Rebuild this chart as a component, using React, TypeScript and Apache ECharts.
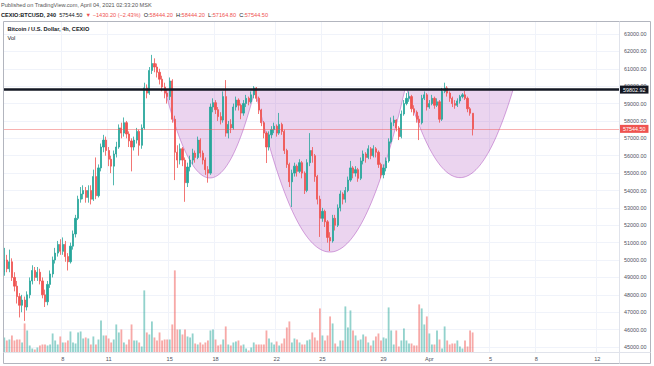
import React, { useEffect, useRef } from 'react';
import * as echarts from 'echarts';

// ---- data (4h candles, CEXIO BTC/USD, from 2021-03-04 04:00 UTC) ----
const firstOpen = 49300;
const closes = [
  50000, 49500, 49900, 49000, 48500, 47900, 47400, 47700, 47300, 48000,
  48800, 49400, 49000, 49300, 48800, 48000, 47600, 48600, 49200, 50000,
  50400, 50900, 50500, 50900, 50200, 49900, 50800, 51500, 52400, 53500,
  53800, 54000, 53600, 54000, 53500, 54800, 53700, 55300, 56500, 56900,
  56300, 55800, 55400, 56100, 56500, 57600, 57300, 57900, 57250, 56850,
  56500, 56900, 57400, 56600, 57600, 59900, 59600, 60900, 61300, 61100,
  60800, 60400, 59950, 59600, 59400, 60300, 58100, 56200, 55750, 56400,
  55750, 54450, 55350, 55750, 56150, 55900, 56900, 56150, 55750, 55200,
  55000, 58800, 59050, 58650, 58250, 58050, 59400, 57300, 57800, 57600,
  58800, 59200, 58900, 58450, 59000, 59300, 59100, 59500, 59900, 59300,
  58630, 57900, 57300, 56500, 57200, 57500, 57700, 57300, 57800, 57400,
  56300, 55500, 54500, 55000, 55400, 55100, 55600, 55000, 54000, 55600,
  56300, 56000, 54800, 53500, 52400, 52800, 52200, 51300, 51100, 52400,
  52000, 53000, 53800, 53500, 54000, 54600, 55300, 55000, 55200, 54700,
  55700, 56100, 55900, 56400, 56000, 56400, 56200, 55500, 54900, 55300,
  55700, 56800, 57900, 58050, 57600, 57100, 58400, 59000, 59300, 59400,
  58700, 58500, 58100, 57900, 59300, 59500, 58800, 59000, 59300, 58900,
  59100, 58100, 59700, 59900, 59600, 59300, 59000, 58900, 59150, 59400,
  59500, 59300, 58700, 58444.2, 57544.5,
];
const highs = [
  50700, 50300, 50600, 50100, 49300, 48800, 48100, 48000, 47900, 48200,
  49000, 49700, 49600, 49600, 49500, 49000, 48300, 48800, 49400, 50200,
  50700, 51100, 51200, 51300, 51100, 50400, 51000, 51700, 52600, 53700,
  54200, 54300, 54200, 54300, 54300, 55200, 55900, 55500, 56700, 57200,
  57100, 56500, 56000, 56300, 56800, 57800, 57900, 58200, 58000, 57400,
  57000, 57100, 57600, 57500, 57800, 60200, 60100, 61100, 61800, 61600,
  61300, 61000, 60600, 60200, 59800, 60500, 60400, 58300, 56600, 56700,
  56500, 55900, 55600, 56000, 56400, 56300, 57100, 57000, 56300, 55900,
  55400, 59000, 59300, 59200, 58800, 58500, 59700, 60350, 58000, 58100,
  59000, 59400, 59300, 59000, 59200, 59500, 59400, 59700, 60000, 59950,
  59400, 58700, 58000, 57400, 57400, 57700, 57900, 57800, 58460, 57900,
  57500, 56400, 55600, 55200, 55600, 55500, 55800, 55700, 55100, 55800,
  57300, 56500, 56100, 54900, 53700, 53000, 52900, 52300, 51600, 52600,
  52600, 53200, 54000, 53900, 54200, 54800, 55700, 55400, 55400, 55300,
  55900, 56300, 56200, 56600, 56500, 56600, 56500, 56300, 55600, 55500,
  55900, 57000, 58200, 58300, 58100, 57700, 58600, 59200, 59600, 59700,
  59500, 58900, 58600, 58300, 59500, 59700, 59600, 59200, 59500, 59400,
  59300, 59200, 59900, 60200, 60000, 59700, 59400, 59200, 59300, 59500,
  59600, 59720, 59400, 58800, 58444.2,
];
const lows = [
  49100, 49300, 49300, 48800, 48200, 47500, 46700, 47000, 46500, 47100,
  47800, 48600, 48800, 48800, 48600, 47800, 47300, 47400, 48400, 49000,
  49800, 50200, 50300, 50300, 49900, 49400, 49800, 50600, 51300, 52300,
  53300, 53500, 53300, 53300, 53200, 53400, 53500, 53600, 55100, 56200,
  56000, 55400, 55000, 54300, 55900, 56400, 57000, 57100, 57000, 56500,
  55100, 56300, 56700, 56000, 56400, 57500, 59300, 59500, 60700, 60800,
  60500, 60100, 59700, 59300, 59000, 59200, 57900, 54600, 55300, 55500,
  55400, 53350, 54200, 55100, 55500, 55600, 55800, 55900, 55500, 54900,
  54450, 54900, 58500, 58400, 58000, 57800, 57900, 57100, 57000, 57300,
  57500, 58600, 58600, 58100, 58300, 58800, 58900, 59000, 59300, 59100,
  58400, 57700, 57000, 55580, 56300, 57000, 57300, 57100, 57200, 57200,
  56100, 55300, 54200, 53050, 54800, 54800, 55000, 54700, 53800, 53900,
  55400, 55600, 54500, 53200, 51330, 52200, 51900, 51000, 50520, 51000,
  51700, 51900, 52800, 53200, 53300, 53900, 54500, 54700, 54800, 54500,
  54600, 55500, 55600, 55800, 55800, 55900, 55900, 55300, 54700, 54700,
  55100, 55600, 56700, 57700, 57400, 56900, 57000, 58300, 58900, 59100,
  58500, 58300, 57900, 56900, 57800, 59200, 58600, 58700, 58900, 58700,
  58800, 57900, 58000, 59600, 59400, 59100, 58800, 58700, 58800, 59000,
  59300, 59200, 58500, 58300, 57164.8,
];
const volumes = [
  150, 120, 130, 170, 120, 130, 130, 100, 290, 220,
  70, 40, 30, 50, 70, 80, 80, 70, 80, 190,
  120, 80, 160, 100, 100, 120, 210, 100, 90, 200,
  210, 140, 150, 140, 80, 160, 80, 130, 320, 170,
  170, 140, 100, 130, 280, 200, 230, 100, 80, 130,
  280, 120, 120, 100, 60, 620, 200, 180, 310, 150,
  120, 200, 120, 130, 130, 130, 280, 820, 230, 230,
  180, 230, 160, 150, 190, 90, 80, 100, 80, 100,
  120, 220, 230, 130, 70, 80, 130, 260, 80, 70,
  100, 110, 120, 70, 80, 40, 20, 50, 100, 80,
  80, 80, 80, 220, 140, 100, 80, 110, 70, 90,
  140, 250, 310, 100, 140, 130, 100, 80, 80, 120,
  130, 200, 150, 120, 440, 170, 120, 170, 360, 290,
  90, 60, 120, 120, 460, 250, 420, 220, 170, 120,
  130, 180, 160, 100, 70, 120, 160, 190, 120, 150,
  140, 450, 220, 80, 220, 60, 120, 240, 120, 90,
  90, 70, 70, 480, 440, 280, 360, 190, 80, 80,
  220, 130, 40, 260, 120, 80, 90, 90, 120, 60,
  40, 120, 60, 220, 200,
];
const tickDays = ['03-08', '03-11', '03-15', '03-18', '03-22', '03-25', '03-29', '04-01', '04-05', '04-08', '04-12'];
const tickTexts = ['8', '11', '15', '18', '22', '25', '29', 'Apr', '5', '8', '12'];
const levelPrice = 59802.92;
const lastPrice = 57544.5;
// cup drawings: [left slot, right slot, bottom price]
const cupLeft = [63.1, 98.5, 158.2];
const cupRight = [98.5, 157.4, 199.9];
const cupBottom = [54720, 50460, 54740];

const SLOTS = 242;
const startMs = Date.UTC(2021, 2, 4, 4);
const pad = (n: number) => String(n).padStart(2, '0');
const categories = Array.from({ length: SLOTS }, (_, i) => {
  const d = new Date(startMs + i * 4 * 3600 * 1000);
  return `${pad(d.getUTCMonth() + 1)}-${pad(d.getUTCDate())} ${pad(d.getUTCHours())}:00`;
});
const opens = closes.map((_, i) => (i === 0 ? firstOpen : closes[i - 1]));
const candleData = closes.map((c, i) => [opens[i], c, lows[i], highs[i]]);
const UP = '#26a69a';
const DOWN = '#ef5350';
const volData = volumes.map((v, i) => ({
  value: v,
  itemStyle: { color: closes[i] >= opens[i] ? 'rgba(38,166,154,0.5)' : 'rgba(239,83,80,0.5)' },
}));
const cupData = cupLeft.map((l, i) => [0, levelPrice, l, cupRight[i], cupBottom[i]]);
const isTick = (v: string) => v.endsWith(' 00:00') && tickDays.includes(v.slice(0, 5));

const FONT = 'Liberation Sans';

export default function App() {
  const ref = useRef<HTMLDivElement>(null);
  useEffect(() => {
    const chart = echarts.init(ref.current!, null, { renderer: 'svg' });
    const option: any = {
      animation: false,
      textStyle: { fontFamily: FONT },
      grid: [
        { left: 3, right: 35, top: 16.61, bottom: 1.61, outerBoundsMode: 'none' },
        { left: 3, right: 35, top: 21, bottom: 13.5, outerBoundsMode: 'none' },
      ],
      xAxis: [
        { type: 'category', gridIndex: 0, data: categories, show: false },
        {
          type: 'category',
          gridIndex: 1,
          data: categories,
          axisLine: { show: false },
          axisTick: { show: false },
          axisLabel: {
            interval: (_i: number, v: string) => isTick(v),
            formatter: (v: string) => tickTexts[tickDays.indexOf(v.slice(0, 5))],
            fontSize: 5.6,
            color: '#50535e',
            margin: 3,
          },
          splitLine: {
            show: true,
            interval: (_i: number, v: string) => isTick(v),
            lineStyle: { color: '#f0f3fa', width: 1 },
          },
        },
      ],
      yAxis: [
        {
          type: 'value',
          gridIndex: 0,
          position: 'right',
          min: 44000,
          max: 64000,
          interval: 1000,
          axisLine: { show: false },
          axisTick: { show: false },
          axisLabel: {
            showMinLabel: false,
            showMaxLabel: false,
            formatter: (v: number) => v.toFixed(2),
            fontSize: 5.4,
            color: '#50535e',
            margin: 5,
          },
          splitLine: { show: true, showMinLine: false, showMaxLine: false, lineStyle: { color: '#f0f3fa', width: 1 } },
        },
        { type: 'value', gridIndex: 1, min: 0, max: 3310, show: false },
      ],
      series: [
        {
          type: 'bar',
          xAxisIndex: 1,
          yAxisIndex: 1,
          data: volData,
          barWidth: '72%',
          z: 1,
        },
        {
          type: 'custom',
          xAxisIndex: 0,
          yAxisIndex: 0,
          z: 2,
          silent: true,
          dimensions: ['x', 'top', 'left', 'right', 'bottom'],
          encode: { x: 0, y: 1 },
          data: cupData,
          renderItem: (_p: any, api: any) => {
            const top = api.value(1);
            const l = api.value(2);
            const r = api.value(3);
            const bot = api.value(4);
            const a = api.coord([0, top]);
            const b = api.coord([100, top]);
            const per = (b[0] - a[0]) / 100;
            const yTop = a[1];
            const yBot = api.coord([0, bot])[1];
            const xl = a[0] + l * per;
            const xr = a[0] + r * per;
            const cx = (xl + xr) / 2;
            const hw = (xr - xl) / 2;
            const pts: number[][] = [];
            for (let i = 0; i <= 80; i++) {
              const t = -1 + (2 * i) / 80;
              pts.push([cx + t * hw, yBot - (yBot - yTop) * t * t]);
            }
            return {
              type: 'polygon',
              shape: { points: pts },
              style: { fill: 'rgba(156,39,176,0.2)', stroke: 'rgba(156,39,176,0.5)', lineWidth: 0.8 },
            };
          },
        },
        {
          type: 'candlestick',
          xAxisIndex: 0,
          yAxisIndex: 0,
          z: 3,
          data: candleData,
          barWidth: '66%',
          itemStyle: { color: UP, color0: DOWN, borderColor: UP, borderColor0: DOWN, borderWidth: 0.8 },
          markLine: {
            symbol: ['none', 'none'],
            silent: true,
            data: [
              {
                yAxis: lastPrice,
                lineStyle: { color: 'rgba(239,83,80,0.45)', width: 1, type: 'solid' },
                label: {
                  show: true,
                  position: 'end',
                  distance: 1,
                  formatter: (p: any) => Number(p.value).toFixed(2),
                  backgroundColor: DOWN,
                  color: '#ffffff',
                  fontSize: 5.4,
                  padding: [1.5, 3],
                },
              },
              {
                yAxis: levelPrice,
                lineStyle: { color: '#131722', width: 2.5, type: 'solid' },
                label: {
                  show: true,
                  position: 'end',
                  distance: 1,
                  formatter: (p: any) => Number(p.value).toFixed(2),
                  backgroundColor: '#131722',
                  color: '#ffffff',
                  fontSize: 5.4,
                  padding: [1.5, 3],
                },
              },
            ],
          },
        },
      ],
      graphic: [
        { type: 'rect', z: 10, silent: true, shape: { x: 3.5, y: 21.5, width: 647, height: 342 }, style: { fill: 'none', stroke: '#b2b5be', lineWidth: 1 } },
        { type: 'line', z: 10, silent: true, shape: { x1: 619.5, y1: 21.5, x2: 619.5, y2: 363.5 }, style: { stroke: '#e0e3eb', lineWidth: 1 } },
        { type: 'line', z: 10, silent: true, shape: { x1: 3.5, y1: 352.5, x2: 650.5, y2: 352.5 }, style: { stroke: '#e0e3eb', lineWidth: 1 } },
        {
          type: 'text', z: 10, x: 1, y: 5,
          style: { text: 'Published on TradingView.com, April 04, 2021 02:33:20 MSK', fontSize: 5.6, fontFamily: FONT, fill: '#555', verticalAlign: 'middle' },
        },
        {
          type: 'text', z: 10, x: 1, y: 15,
          style: {
            text: '{b|CEXIO:BTCUSD, 240}  {n|57544.50}  {r|▼ −1430.20 (−2.43%)}  {n|O:}{r|58444.20}  {n|H:}{r|58444.20}  {n|L:}{r|57164.80}  {n|C:}{r|57544.50}',
            fontSize: 5.6, fontFamily: FONT, verticalAlign: 'middle',
            rich: {
              b: { fontSize: 5.6, fontWeight: 'bold', fill: '#131722', fontFamily: FONT },
              n: { fontSize: 5.6, fill: '#131722', fontFamily: FONT },
              r: { fontSize: 5.6, fill: DOWN, fontFamily: FONT },
            },
          },
        },
        {
          type: 'text', z: 10, x: 7.5, y: 29.3,
          style: { text: 'Bitcoin / U.S. Dollar, 4h, CEXIO', fontSize: 5.6, fontWeight: 'bold', fontFamily: FONT, fill: '#131722', verticalAlign: 'middle' },
        },
        {
          type: 'text', z: 10, x: 7.5, y: 37.7,
          style: { text: 'Vol', fontSize: 5.6, fontFamily: FONT, fill: '#131722', verticalAlign: 'middle' },
        },
      ],
    };
    chart.setOption(option);
    return () => chart.dispose();
  }, []);
  return <div ref={ref} style={{ width: 654, height: 366, position: 'absolute', left: 0, top: 0 }} />;
}
